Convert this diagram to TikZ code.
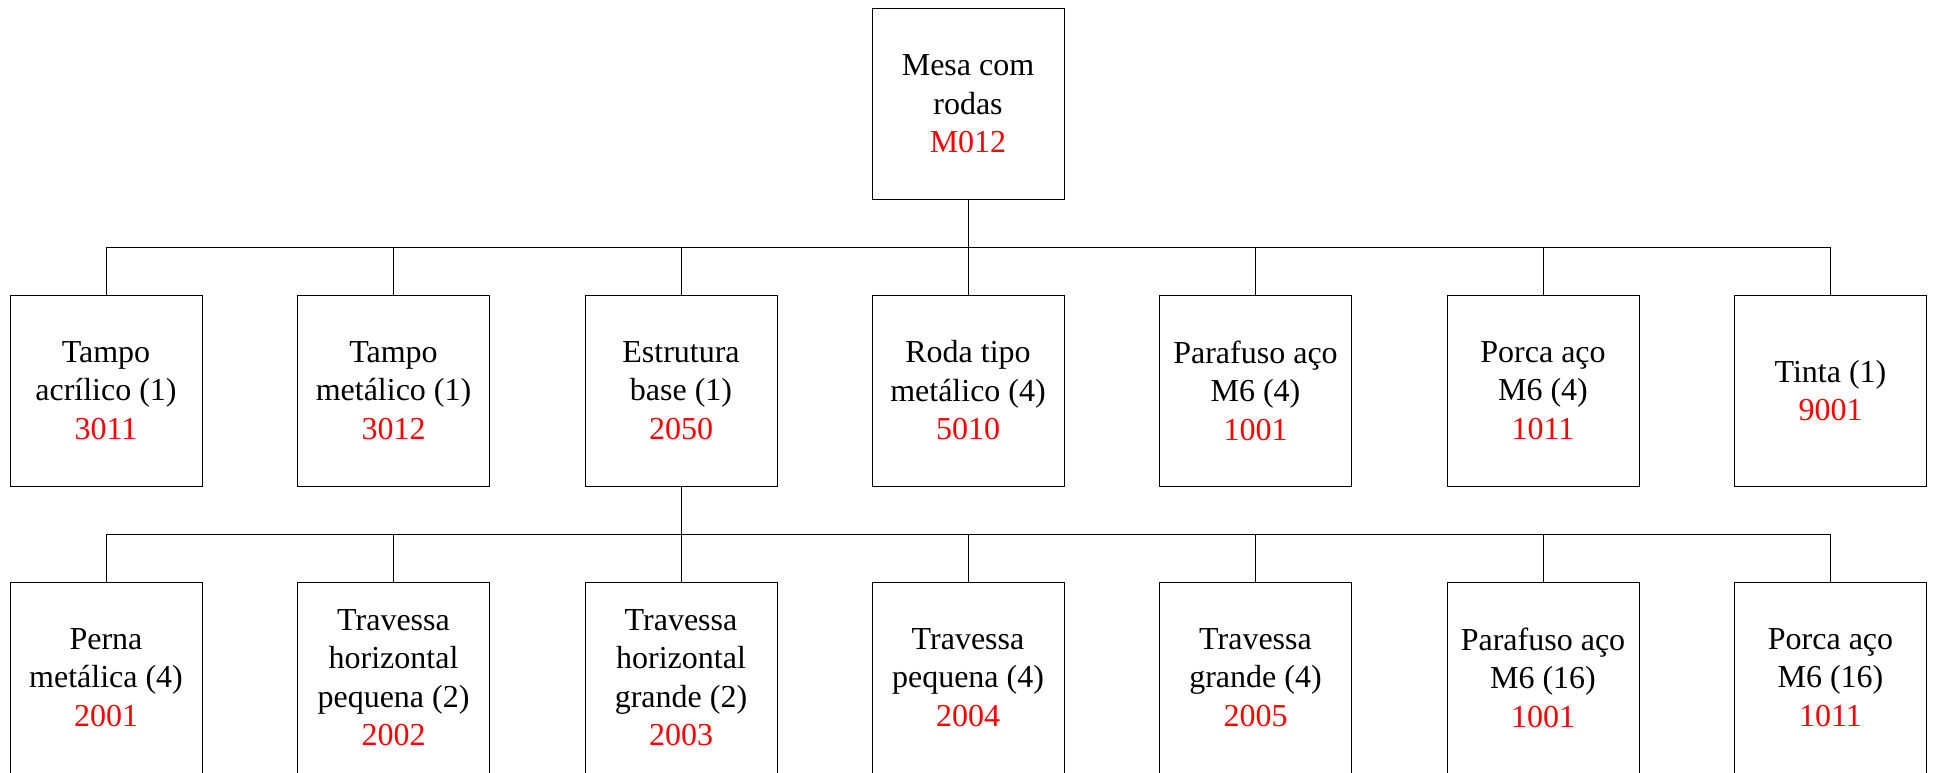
\documentclass[tikz,border=0pt]{standalone}
\usepackage{fontspec}
\setmainfont{Liberation Serif}
\definecolor{codered}{RGB}{255,0,0}
\newcommand{\cod}[1]{\textcolor{codered}{#1}}
\begin{document}
\begin{tikzpicture}[x=1pt,y=-1pt,
  part/.style={draw=black, line width=1pt, rectangle, minimum width=192pt, minimum height=191pt,
    inner sep=0pt, align=center, font=\fontsize{32}{38.5}\selectfont},
  link/.style={draw=black, line width=1pt}]
\useasboundingbox (0,0) rectangle (1934,772);
\fill[white] (0,0) rectangle (1934,772);
% top
\node[part] (top) at (968,103.8) {Mesa com\\rodas\\\cod{M012}};
% row 1
\node[part] (a1) at (106,390.5) {Tampo\\acrílico (1)\\\cod{3011}};
\node[part] (a2) at (393.5,390.5) {Tampo\\metálico (1)\\\cod{3012}};
\node[part] (a3) at (681,390.5) {Estrutura\\base (1)\\\cod{2050}};
\node[part] (a4) at (968,390.5) {Roda tipo\\metálico (4)\\\cod{5010}};
\node[part] (a5) at (1255.5,390.5) {Parafuso aço\\M6 (4)\\\cod{1001}};
\node[part] (a6) at (1543,390.5) {Porca aço\\M6 (4)\\\cod{1011}};
\node[part] (a7) at (1830.5,390.5) {Tinta (1)\\\cod{9001}};
% row 2
\node[part] (b1) at (106,677.5) {Perna\\metálica (4)\\\cod{2001}};
\node[part] (b2) at (393.5,677.5) {Travessa\\horizontal\\pequena (2)\\\cod{2002}};
\node[part] (b3) at (681,677.5) {Travessa\\horizontal\\grande (2)\\\cod{2003}};
\node[part] (b4) at (968,677.5) {Travessa\\pequena (4)\\\cod{2004}};
\node[part] (b5) at (1255.5,677.5) {Travessa\\grande (4)\\\cod{2005}};
\node[part] (b6) at (1543,677.5) {Parafuso aço\\M6 (16)\\\cod{1001}};
\node[part] (b7) at (1830.5,677.5) {Porca aço\\M6 (16)\\\cod{1011}};
% buses
\coordinate (busA) at (968,247.3);
\coordinate (busB) at (681,534.3);
\foreach \n in {a1,a2,a3,a4,a5,a6,a7}
  \draw[link] (top.south) -- (busA) -| (\n.north);
\foreach \n in {b1,b2,b3,b4,b5,b6,b7}
  \draw[link] (a3.south) -- (busB) -| (\n.north);
\end{tikzpicture}
\end{document}
